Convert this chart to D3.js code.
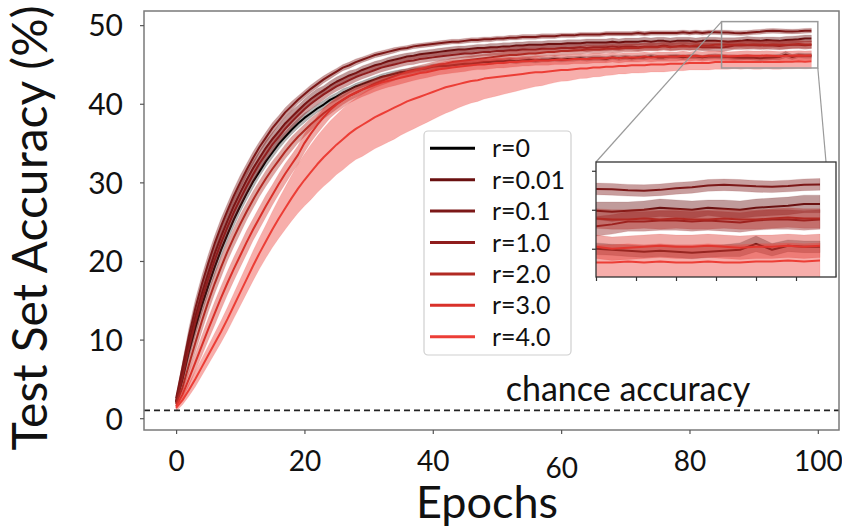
<!DOCTYPE html>
<html>
<head>
<meta charset="utf-8">
<script src="https://cdn.jsdelivr.net/npm/d3@7"></script>
<style>
  html, body { margin: 0; padding: 0; background: #fff; }
  svg { display: block; font-family: Lato, "Open Sans", sans-serif; }
</style>
</head>
<body>
<svg id="chart" width="842" height="527"></svg>
<script>
// Test-set accuracy (%) per epoch (0..99), mean and std over runs, per regularisation strength r
const seriesLabels = ["r=0", "r=0.01", "r=0.1", "r=1.0", "r=2.0", "r=3.0", "r=4.0"];

const accR0 = [
  2.0, 5.0, 8.5, 11.5, 14.3, 16.8, 19.2, 21.4, 23.4, 25.3,
  27.0, 28.6, 30.1, 31.4, 32.7, 33.8, 34.9, 35.8, 36.7, 37.5,
  38.2, 38.8, 39.4, 39.9, 40.5, 40.9, 41.4, 41.8, 42.2, 42.5,
  42.8, 43.1, 43.4, 43.6, 43.8, 44.0, 44.1, 44.3, 44.4, 44.5,
  44.7, 44.8, 44.8, 44.9, 45.0, 45.1, 45.1, 45.2, 45.3, 45.3,
  45.4, 45.4, 45.5, 45.4, 45.5, 45.6, 45.5, 45.6, 45.6, 45.7,
  45.6, 45.7, 45.7, 45.8, 45.7, 45.8, 45.8, 45.7, 45.9, 45.8,
  45.9, 45.8, 45.9, 45.9, 46.0, 45.9, 45.9, 46.0, 46.0, 45.9,
  46.0, 46.0, 45.9, 46.0, 46.05, 46.0, 45.95, 45.9, 45.85, 45.9,
  45.85, 45.8, 45.85, 45.9, 45.95, 46.25, 45.95, 46.15, 46.1, 46.1
];
const accR001 = [
  2.2, 5.8, 9.6, 12.9, 15.8, 18.4, 20.9, 23.1, 25.1, 27.0,
  28.7, 30.3, 31.8, 33.1, 34.4, 35.5, 36.5, 37.5, 38.3, 39.1,
  39.9, 40.6, 41.2, 41.7, 42.3, 42.8, 43.2, 43.6, 43.9, 44.3,
  44.6, 44.9, 45.1, 45.4, 45.6, 45.8, 46.0, 46.1, 46.3, 46.4,
  46.5, 46.6, 46.7, 46.8, 46.9, 46.9, 47.0, 47.1, 47.1, 47.2,
  47.2, 47.3, 47.3, 47.4, 47.4, 47.5, 47.5, 47.5, 47.6, 47.6,
  47.6, 47.7, 47.7, 47.7, 47.8, 47.8, 47.8, 47.8, 47.9, 47.8,
  47.9, 47.9, 47.9, 48.0, 47.9, 48.0, 48.0, 47.9, 48.0, 48.0,
  48.0, 47.9, 48.0, 48.0, 48.0, 47.95, 47.9, 47.95, 48.0, 48.1,
  48.05, 48.0, 48.1, 48.05, 48.0, 48.1, 48.15, 48.2, 48.3, 48.3
];
const accR01 = [
  2.5, 6.5, 10.5, 14.0, 17.0, 19.7, 22.2, 24.4, 26.4, 28.3,
  30.0, 31.6, 33.1, 34.5, 35.7, 36.9, 37.9, 38.9, 39.7, 40.5,
  41.2, 41.9, 42.5, 43.1, 43.6, 44.1, 44.6, 44.9, 45.3, 45.6,
  45.9, 46.2, 46.4, 46.6, 46.8, 47.0, 47.1, 47.3, 47.4, 47.5,
  47.6, 47.7, 47.8, 47.9, 47.9, 48.0, 48.1, 48.1, 48.2, 48.2,
  48.3, 48.3, 48.4, 48.4, 48.5, 48.5, 48.5, 48.6, 48.6, 48.6,
  48.7, 48.7, 48.7, 48.8, 48.8, 48.8, 48.8, 48.9, 48.9, 48.9,
  48.9, 48.9, 49.0, 48.9, 49.0, 49.0, 49.0, 49.0, 49.0, 49.1,
  49.0, 49.1, 49.0, 49.1, 49.1, 49.07, 49.05, 49.0, 48.98, 49.02,
  49.1, 49.15, 49.25, 49.28, 49.25, 49.2, 49.18, 49.22, 49.28, 49.3
];
const accR1 = [
  2.0, 5.2, 8.9, 12.2, 15.1, 17.7, 20.1, 22.3, 24.3, 26.2,
  27.9, 29.5, 31.0, 32.4, 33.6, 34.8, 35.8, 36.8, 37.7, 38.5,
  39.3, 40.0, 40.6, 41.2, 41.7, 42.2, 42.6, 43.0, 43.4, 43.7,
  44.0, 44.3, 44.6, 44.8, 45.0, 45.2, 45.4, 45.5, 45.7, 45.8,
  45.9, 46.0, 46.1, 46.2, 46.3, 46.4, 46.4, 46.5, 46.6, 46.6,
  46.7, 46.7, 46.8, 46.8, 46.9, 46.9, 46.9, 47.0, 47.0, 47.0,
  47.1, 47.1, 47.1, 47.2, 47.1, 47.2, 47.2, 47.2, 47.3, 47.2,
  47.3, 47.3, 47.2, 47.3, 47.3, 47.3, 47.4, 47.3, 47.3, 47.4,
  47.3, 47.3, 47.2, 47.2, 47.2, 47.15, 47.25, 47.4, 47.4, 47.45,
  47.45, 47.4, 47.45, 47.4, 47.35, 47.45, 47.5, 47.5, 47.45, 47.5
];
const accR2 = [
  1.8, 3.9, 6.8, 9.6, 12.3, 14.8, 17.1, 19.2, 21.2, 23.0,
  24.7, 26.3, 27.8, 29.2, 30.5, 31.7, 32.8, 33.9, 34.9, 35.8,
  36.6, 37.4, 38.1, 38.8, 39.4, 40.0, 40.5, 41.0, 41.4, 41.8,
  42.2, 42.6, 42.9, 43.2, 43.5, 43.8, 44.0, 44.2, 44.4, 44.6,
  44.8, 45.0, 45.1, 45.3, 45.4, 45.5, 45.6, 45.7, 45.8, 45.9,
  46.0, 46.1, 46.2, 46.2, 46.3, 46.4, 46.4, 46.5, 46.6, 46.6,
  46.7, 46.7, 46.8, 46.8, 46.9, 46.9, 46.9, 47.0, 47.0, 47.0,
  47.1, 47.1, 47.1, 47.2, 47.2, 47.2, 47.3, 47.2, 47.3, 47.3,
  47.3, 47.4, 47.4, 47.4, 47.5, 47.55, 47.5, 47.5, 47.55, 47.5,
  47.55, 47.5, 47.5, 47.55, 47.5, 47.5, 47.55, 47.6, 47.55, 47.55
];
const accR3 = [
  1.5, 3.0, 5.0, 7.1, 9.2, 11.3, 13.3, 15.3, 17.2, 19.0,
  20.7, 22.4, 24.0, 25.5, 27.0, 28.4, 29.8, 31.1, 32.3, 33.5,
  35.0, 36.2, 37.3, 38.3, 39.2, 39.9, 40.5, 41.0, 41.4, 41.8,
  42.1, 42.4, 42.7, 42.9, 43.1, 43.3, 43.5, 43.7, 43.9, 44.0,
  44.2, 44.4, 44.5, 44.6, 44.7, 44.8, 44.9, 45.0, 45.0, 45.1,
  45.2, 45.2, 45.3, 45.3, 45.4, 45.4, 45.5, 45.5, 45.5, 45.6,
  45.6, 45.6, 45.7, 45.7, 45.7, 45.8, 45.8, 45.8, 45.9, 45.8,
  45.9, 45.9, 45.9, 46.0, 45.9, 46.0, 46.0, 46.0, 46.0, 46.1,
  46.0, 46.1, 46.0, 46.1, 46.1, 46.1, 46.0, 46.05, 46.1, 46.15,
  46.1, 46.1, 46.15, 46.1, 46.05, 46.1, 46.1, 46.15, 46.1, 46.15
];
const accR4 = [
  1.3, 2.3, 3.6, 5.0, 6.5, 8.0, 9.5, 11.0, 12.6, 14.3,
  16.0, 17.7, 19.4, 21.0, 22.5, 24.0, 25.4, 26.7, 28.0, 29.2,
  30.3, 31.3, 32.3, 33.2, 34.0, 34.8, 35.5, 36.2, 36.8, 37.3,
  37.8, 38.3, 38.7, 39.1, 39.5, 39.9, 40.3, 40.6, 40.9, 41.2,
  41.5, 41.8, 42.1, 42.3, 42.5, 42.7, 42.9, 43.0, 43.2, 43.3,
  43.4, 43.5, 43.6, 43.7, 43.8, 43.9, 44.0, 44.0, 44.1, 44.2,
  44.3, 44.3, 44.4, 44.5, 44.5, 44.6, 44.6, 44.7, 44.7, 44.8,
  44.8, 44.9, 44.9, 44.9, 45.0, 45.0, 45.0, 45.1, 45.1, 45.1,
  45.2, 45.2, 45.2, 45.2, 45.3, 45.3, 45.3, 45.35, 45.3, 45.35,
  45.3, 45.3, 45.35, 45.3, 45.3, 45.35, 45.35, 45.4, 45.35, 45.4
];

const stdR0 = [
  0.3, 0.6, 0.8, 0.9, 1.0, 1.0, 1.0, 0.9, 0.9, 0.9,
  0.8, 0.8, 0.8, 0.7, 0.7, 0.7, 0.7, 0.6, 0.6, 0.6,
  0.6, 0.5, 0.5, 0.5, 0.5, 0.5, 0.5, 0.4, 0.4, 0.4,
  0.4, 0.4, 0.4, 0.4, 0.4, 0.35, 0.35, 0.35, 0.35, 0.35,
  0.35, 0.3, 0.3, 0.3, 0.3, 0.3, 0.3, 0.3, 0.3, 0.3,
  0.3, 0.3, 0.3, 0.3, 0.28, 0.3, 0.3, 0.3, 0.28, 0.3,
  0.3, 0.3, 0.3, 0.28, 0.3, 0.3, 0.3, 0.3, 0.28, 0.3,
  0.3, 0.3, 0.28, 0.3, 0.3, 0.3, 0.3, 0.28, 0.3, 0.3,
  0.3, 0.3, 0.28, 0.3, 0.3, 0.3, 0.28, 0.3, 0.3, 0.3,
  0.3, 0.32, 0.3, 0.3, 0.35, 0.4, 0.32, 0.3, 0.3, 0.3
];
const stdR001 = [
  0.3, 0.7, 1.0, 1.1, 1.2, 1.2, 1.2, 1.1, 1.1, 1.0,
  1.0, 1.0, 0.9, 0.9, 0.9, 0.8, 0.8, 0.8, 0.8, 0.7,
  0.7, 0.7, 0.7, 0.6, 0.6, 0.6, 0.6, 0.6, 0.5, 0.5,
  0.5, 0.5, 0.5, 0.5, 0.5, 0.5, 0.45, 0.45, 0.45, 0.45,
  0.45, 0.45, 0.45, 0.45, 0.45, 0.45, 0.45, 0.45, 0.45, 0.45,
  0.45, 0.45, 0.45, 0.45, 0.45, 0.45, 0.45, 0.45, 0.45, 0.45,
  0.45, 0.45, 0.45, 0.45, 0.45, 0.45, 0.45, 0.45, 0.45, 0.45,
  0.45, 0.45, 0.45, 0.45, 0.45, 0.45, 0.45, 0.45, 0.45, 0.45,
  0.45, 0.45, 0.45, 0.45, 0.45, 0.45, 0.5, 0.45, 0.45, 0.45,
  0.45, 0.45, 0.4, 0.45, 0.45, 0.45, 0.45, 0.45, 0.45, 0.45
];
const stdR01 = [
  0.3, 0.7, 1.0, 1.1, 1.1, 1.1, 1.0, 1.0, 0.9, 0.9,
  0.9, 0.8, 0.8, 0.7, 0.7, 0.7, 0.6, 0.6, 0.6, 0.5,
  0.5, 0.5, 0.5, 0.45, 0.45, 0.4, 0.4, 0.4, 0.4, 0.35,
  0.35, 0.35, 0.35, 0.35, 0.35, 0.3, 0.3, 0.3, 0.3, 0.3,
  0.3, 0.3, 0.3, 0.3, 0.3, 0.3, 0.3, 0.3, 0.3, 0.3,
  0.3, 0.3, 0.3, 0.3, 0.3, 0.3, 0.3, 0.3, 0.3, 0.3,
  0.28, 0.28, 0.28, 0.28, 0.28, 0.28, 0.28, 0.28, 0.28, 0.28,
  0.28, 0.28, 0.28, 0.28, 0.28, 0.28, 0.28, 0.28, 0.28, 0.28,
  0.28, 0.28, 0.28, 0.28, 0.28, 0.3, 0.3, 0.3, 0.3, 0.3,
  0.3, 0.3, 0.3, 0.3, 0.3, 0.3, 0.3, 0.3, 0.3, 0.3
];
const stdR1 = [
  0.3, 0.7, 1.0, 1.2, 1.2, 1.2, 1.2, 1.1, 1.1, 1.1,
  1.0, 1.0, 1.0, 0.9, 0.9, 0.9, 0.8, 0.8, 0.8, 0.8,
  0.7, 0.7, 0.7, 0.7, 0.6, 0.6, 0.6, 0.6, 0.6, 0.55,
  0.55, 0.55, 0.55, 0.55, 0.5, 0.5, 0.5, 0.5, 0.5, 0.5,
  0.5, 0.5, 0.5, 0.5, 0.5, 0.5, 0.5, 0.5, 0.5, 0.5,
  0.5, 0.5, 0.5, 0.5, 0.5, 0.5, 0.5, 0.5, 0.5, 0.5,
  0.5, 0.5, 0.5, 0.5, 0.5, 0.5, 0.5, 0.5, 0.5, 0.5,
  0.5, 0.5, 0.5, 0.5, 0.5, 0.5, 0.5, 0.5, 0.5, 0.5,
  0.5, 0.5, 0.5, 0.5, 0.5, 0.5, 0.5, 0.5, 0.5, 0.5,
  0.5, 0.5, 0.5, 0.5, 0.5, 0.5, 0.5, 0.5, 0.5, 0.5
];
const stdR2 = [
  0.3, 0.7, 1.0, 1.2, 1.3, 1.3, 1.3, 1.3, 1.2, 1.2,
  1.2, 1.1, 1.1, 1.0, 1.0, 1.0, 0.9, 0.9, 0.9, 0.8,
  0.8, 0.8, 0.7, 0.7, 0.7, 0.7, 0.6, 0.6, 0.6, 0.6,
  0.55, 0.55, 0.55, 0.55, 0.55, 0.5, 0.5, 0.5, 0.5, 0.5,
  0.5, 0.5, 0.5, 0.5, 0.5, 0.5, 0.5, 0.5, 0.5, 0.5,
  0.5, 0.5, 0.5, 0.5, 0.5, 0.5, 0.5, 0.5, 0.5, 0.5,
  0.5, 0.5, 0.5, 0.5, 0.5, 0.5, 0.5, 0.5, 0.5, 0.5,
  0.5, 0.5, 0.5, 0.5, 0.5, 0.5, 0.5, 0.5, 0.5, 0.5,
  0.5, 0.5, 0.5, 0.5, 0.5, 0.5, 0.5, 0.5, 0.5, 0.5,
  0.5, 0.5, 0.5, 0.5, 0.5, 0.5, 0.5, 0.5, 0.5, 0.5
];
const stdR3 = [
  0.3, 0.6, 0.9, 1.1, 1.3, 1.4, 1.5, 1.5, 1.5, 1.5,
  1.5, 1.5, 1.4, 1.4, 1.4, 1.3, 1.3, 1.3, 1.2, 1.2,
  1.2, 1.1, 1.1, 1.1, 1.0, 1.0, 1.0, 0.9, 0.9, 0.9,
  0.9, 0.85, 0.85, 0.8, 0.8, 0.8, 0.75, 0.75, 0.75, 0.7,
  0.7, 0.7, 0.7, 0.7, 0.7, 0.7, 0.65, 0.65, 0.65, 0.65,
  0.65, 0.65, 0.65, 0.6, 0.6, 0.6, 0.6, 0.6, 0.6, 0.6,
  0.6, 0.6, 0.6, 0.6, 0.6, 0.6, 0.6, 0.6, 0.6, 0.6,
  0.6, 0.6, 0.6, 0.6, 0.6, 0.6, 0.6, 0.6, 0.6, 0.6,
  0.6, 0.6, 0.6, 0.6, 0.6, 0.6, 0.6, 0.6, 0.6, 0.6,
  0.6, 0.6, 0.6, 0.6, 0.6, 0.6, 0.6, 0.6, 0.6, 0.6
];
const stdR4 = [
  0.4, 0.6, 0.8, 1.0, 1.1, 1.2, 1.3, 1.4, 1.5, 1.6,
  1.7, 1.8, 1.9, 2.0, 2.1, 2.3, 2.5, 2.7, 2.9, 3.1,
  3.3, 3.5, 3.6, 3.7, 3.8, 3.8, 3.9, 3.9, 3.9, 4.0,
  4.0, 4.0, 4.0, 4.0, 4.0, 3.9, 3.9, 3.8, 3.7, 3.6,
  3.5, 3.4, 3.3, 3.2, 3.0, 2.9, 2.8, 2.7, 2.6, 2.5,
  2.4, 2.3, 2.2, 2.1, 2.0, 1.9, 1.8, 1.7, 1.6, 1.5,
  1.45, 1.4, 1.35, 1.3, 1.25, 1.2, 1.15, 1.1, 1.05, 1.0,
  1.0, 1.0, 1.0, 0.95, 0.95, 0.95, 0.95, 0.95, 0.9, 0.9,
  0.9, 0.9, 0.9, 0.9, 0.9, 0.9, 0.9, 0.9, 0.9, 0.9,
  0.9, 0.9, 0.9, 0.9, 0.9, 0.9, 0.9, 0.9, 0.9, 0.9
];

const meanSeries = [accR0, accR001, accR01, accR1, accR2, accR3, accR4];
const stdSeries = [stdR0, stdR001, stdR01, stdR1, stdR2, stdR3, stdR4];

const xTicks = [0, 20, 40, 60, 80, 100];
const yTicks = [0, 10, 20, 30, 40, 50];
const insetXTicks = [85, 87.5, 90, 92.5, 95, 97.5];
const insetYTicks = [46, 48, 50];
const chanceLevel = 1;
const chanceLabel = "chance accuracy";
const xTitle = "Epochs";
const yTitle = "Test Set Accuracy (%)";

// styling
const lineColors = ["#000000", "#6a1010", "#7c1818", "#8f1d1d", "#b12a23", "#d9312a", "#ec3e36"];
const FONT = "Lato, 'Open Sans', sans-serif";

const svg = d3.select("#chart");
const plot = { left: 144, top: 11, right: 839, bottom: 430 };

const x = d3.scaleLinear().domain([-5, 103.3]).range([plot.left, plot.right]);
const y = d3.scaleLinear().domain([-1.5, 51.8]).range([plot.bottom, plot.top]);

const epochs = d3.range(accR0.length);

svg.append("defs").append("clipPath").attr("id", "clipMain")
  .append("rect").attr("x", plot.left).attr("y", plot.top)
  .attr("width", plot.right - plot.left).attr("height", plot.bottom - plot.top);

function drawSeries(g, xs, ys, lw) {
  meanSeries.forEach((m, k) => {
    const s = stdSeries[k];
    const area = d3.area()
      .x(i => xs(i))
      .y0(i => ys(m[i] - s[i]))
      .y1(i => ys(m[i] + s[i]));
    const line = d3.line().x(i => xs(i)).y(i => ys(m[i]));
    g.append("path").datum(epochs).attr("d", area)
      .attr("fill", lineColors[k]).attr("fill-opacity", k === 0 ? 0.3 : 0.42)
      .attr("stroke", lineColors[k]).attr("stroke-opacity", 0.15).attr("stroke-width", 0.8);
    g.append("path").datum(epochs).attr("d", line)
      .attr("fill", "none").attr("stroke", lineColors[k])
      .attr("stroke-width", lw).attr("stroke-linejoin", "round");
  });
}

// main curves
const mainG = svg.append("g").attr("clip-path", "url(#clipMain)");
drawSeries(mainG, x, y, 2);

// chance level
svg.append("line")
  .attr("x1", plot.left).attr("x2", plot.right)
  .attr("y1", y(chanceLevel)).attr("y2", y(chanceLevel))
  .attr("stroke", "#222").attr("stroke-width", 1.6).attr("stroke-dasharray", "6,4");
svg.append("text").text(chanceLabel)
  .attr("x", 628).attr("y", 401).attr("text-anchor", "middle")
  .attr("font-family", FONT).attr("font-size", 34).attr("fill", "#111");

// frame
svg.append("rect").attr("x", plot.left).attr("y", plot.top)
  .attr("width", plot.right - plot.left).attr("height", plot.bottom - plot.top)
  .attr("fill", "none").attr("stroke", "#7a7a7a").attr("stroke-width", 1.5);

// axes
const xAxis = svg.append("g").attr("transform", `translate(0,${plot.bottom})`)
  .call(d3.axisBottom(x).tickValues(xTicks).tickSize(4).tickPadding(17).tickFormat(d3.format("d")));
const yAxis = svg.append("g").attr("transform", `translate(${plot.left},0)`)
  .call(d3.axisLeft(y).tickValues(yTicks).tickSize(4).tickPadding(17).tickFormat(d3.format("d")));
[xAxis, yAxis].forEach(a => {
  a.select(".domain").remove();
  a.selectAll(".tick line").attr("stroke", "#555").attr("stroke-width", 1.2);
  a.selectAll(".tick text").attr("font-family", FONT).attr("fill", "#111");
});
xAxis.selectAll(".tick text").attr("font-size", 28);
yAxis.selectAll(".tick text").attr("font-size", 30).attr("dy", "0.36em");
// the "60" label sits a little lower than its neighbours
xAxis.selectAll(".tick text").filter(d => d === 60).attr("dy", "0.95em");

svg.append("text").text(xTitle)
  .attr("x", 487).attr("y", 518).attr("text-anchor", "middle")
  .attr("font-family", FONT).attr("font-size", 45).attr("fill", "#111");
svg.append("text").text(yTitle)
  .attr("transform", "translate(47,228) rotate(-90)").attr("text-anchor", "middle")
  .attr("font-family", FONT).attr("font-size", 48).attr("fill", "#111");

// legend
const legend = svg.append("g");
legend.append("rect").attr("x", 424).attr("y", 131).attr("width", 147).attr("height", 224)
  .attr("rx", 4).attr("fill", "#fff").attr("fill-opacity", 0.85)
  .attr("stroke", "#cfcfcf").attr("stroke-width", 1.2);
seriesLabels.forEach((lab, k) => {
  const ly = 148.3 + k * 31.4;
  legend.append("line").attr("x1", 430).attr("x2", 475).attr("y1", ly).attr("y2", ly)
    .attr("stroke", lineColors[k]).attr("stroke-width", 3);
  legend.append("text").text(lab).attr("x", 492).attr("y", ly).attr("dy", "0.36em")
    .attr("font-family", FONT).attr("font-size", 25).attr("fill", "#111");
});

// zoomed inset of the last epochs
const inset = { left: 596, top: 162, right: 836, bottom: 277 };
const xi = d3.scaleLinear().domain([85, 100]).range([inset.left, inset.right]);
const yi = d3.scaleLinear().domain([44.55, 50.45]).range([inset.bottom, inset.top]);

// marker rectangle on the main axes and connectors
svg.append("rect").attr("x", x(85)).attr("y", y(50.45))
  .attr("width", x(100) - x(85)).attr("height", y(44.55) - y(50.45))
  .attr("fill", "none").attr("stroke", "#9a9a9a").attr("stroke-width", 1.5);
svg.append("line").attr("x1", x(85)).attr("y1", y(50.45)).attr("x2", inset.left).attr("y2", inset.top)
  .attr("stroke", "#9a9a9a").attr("stroke-width", 1.2);
svg.append("line").attr("x1", x(100)).attr("y1", y(44.55)).attr("x2", inset.right).attr("y2", inset.bottom)
  .attr("stroke", "#9a9a9a").attr("stroke-width", 1.2);

svg.select("defs").append("clipPath").attr("id", "clipInset")
  .append("rect").attr("x", inset.left).attr("y", inset.top)
  .attr("width", inset.right - inset.left).attr("height", inset.bottom - inset.top);
svg.append("rect").attr("x", inset.left).attr("y", inset.top)
  .attr("width", inset.right - inset.left).attr("height", inset.bottom - inset.top)
  .attr("fill", "#fff");
const insetG = svg.append("g").attr("clip-path", "url(#clipInset)");
drawSeries(insetG, xi, yi, 2);
svg.append("rect").attr("x", inset.left).attr("y", inset.top)
  .attr("width", inset.right - inset.left).attr("height", inset.bottom - inset.top)
  .attr("fill", "none").attr("stroke", "#333").attr("stroke-width", 1.3);

const xiAxis = svg.append("g").attr("transform", `translate(0,${inset.bottom})`)
  .call(d3.axisBottom(xi).tickValues(insetXTicks).tickSize(4).tickFormat(""));
const yiAxis = svg.append("g").attr("transform", `translate(${inset.left},0)`)
  .call(d3.axisLeft(yi).tickValues(insetYTicks).tickSize(4).tickFormat(""));
[xiAxis, yiAxis].forEach(a => {
  a.select(".domain").remove();
  a.selectAll(".tick line").attr("stroke", "#333").attr("stroke-width", 1.2);
});
</script>
</body>
</html>
